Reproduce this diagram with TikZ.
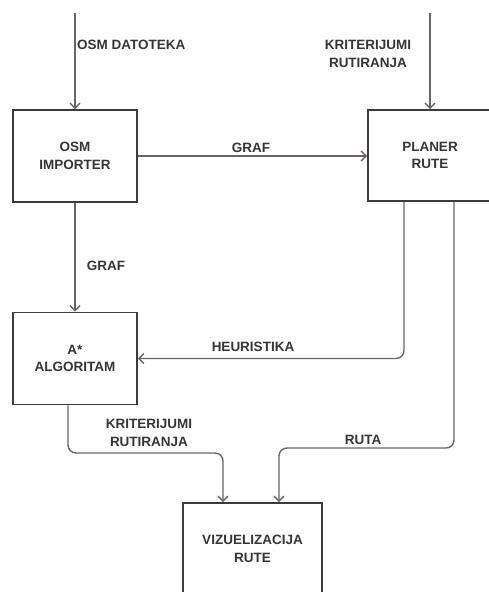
\documentclass[tikz,border=0pt]{standalone}
\usepackage{fontspec}
\setmainfont{Liberation Sans}
\usetikzlibrary{arrows.meta}
\definecolor{txt}{HTML}{353535}
\definecolor{boxc}{HTML}{3C3A3A}
\definecolor{linec}{HTML}{6B6464}
\tikzset{
  x=1pt, y=-1pt,
  lab/.style={font=\fontsize{13.5}{17.5}\selectfont\bfseries, text=txt},
  block/.style={lab, draw=boxc, line width=1.8pt, fill=white,
    minimum width=124pt, minimum height=92pt, inner sep=0pt, align=center},
  flow/.style={draw=linec, line width=1.4pt, rounded corners=8pt,
    -{Straight Barb[length=5pt,width=10pt]}},
  lbl/.style={lab, inner sep=0pt, align=center},
}
\begin{document}
\begin{tikzpicture}
\useasboundingbox[fill=white] (0,0) rectangle (489,592);

% processing blocks
\node[block] (osm)  at (75,156)    {OSM\\IMPORTER};
\node[block, minimum height=91pt] (plan) at (430,155.5) {PLANER\\RUTE};
\node[block] (alg)  at (75,358.5)  {A*\\ALGORITAM};
\node[block, minimum width=139pt] (viz) at (252.5,549) {VIZUELIZACIJA\\RUTE};

% free ends and bends
\coordinate (inOsm)  at (75,13);
\coordinate (inPlan) at (430,13);
\coordinate (kBend)  at (0,453);
\coordinate (rBend)  at (0,448);

% connectors
\draw[flow] (inOsm) -- (osm.north);
\draw[flow] (inPlan) -- (plan.north);
\draw[flow] (osm.east) -- (osm.east -| plan.west);
\draw[flow] (osm.south) -- (alg.north);
\draw[flow] ([xshift=-26pt]plan.south) |- (alg.east);
\draw[flow] ([xshift=-7pt]alg.south) -- ([xshift=-7pt]alg.south |- kBend)
  -| ([xshift=-29.5pt]viz.north);
\draw[flow] ([xshift=24pt]plan.south) -- ([xshift=24pt]plan.south |- rBend)
  -| ([xshift=26.5pt]viz.north);

% connector labels
\node[lbl, anchor=west] (lOsm) at (77,45) {OSM DATOTEKA};
\node[lbl] (lKrit1) at (368,54)  {KRITERIJUMI\\RUTIRANJA};
\node[lbl] (lGraf1) at (251,148) {GRAF};
\node[lbl] (lGraf2) at (106,266) {GRAF};
\node[lbl] (lHeur)  at (253,347) {HEURISTIKA};
\node[lbl] (lKrit2) at (149,433) {KRITERIJUMI\\RUTIRANJA};
\node[lbl] (lRuta)  at (363,440) {RUTA};
\end{tikzpicture}
\end{document}
